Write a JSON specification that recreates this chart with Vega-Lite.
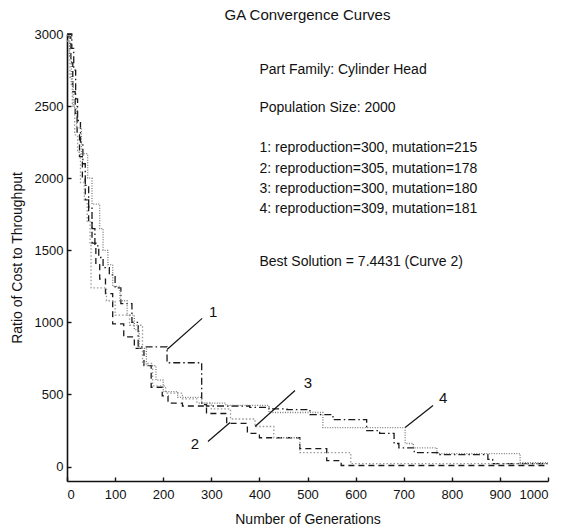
{
  "$schema": "https://vega.github.io/schema/vega-lite/v6.json",
  "autosize": {"type": "none"},
  "padding": {"left": 67, "top": 34, "right": 15, "bottom": 47},
  "width": 481,
  "height": 447,
  "background": "white",
  "config": {
    "view": {"stroke": null},
    "font": "Liberation Sans",
    "axis": {
      "grid": false,
      "domainColor": "#111",
      "domainWidth": 1.6,
      "tickColor": "#111",
      "tickWidth": 1.4,
      "tickSize": -4,
      "labelFontSize": 13,
      "labelColor": "#111",
      "titleFontSize": 14,
      "titleFontWeight": "normal",
      "titleColor": "#111",
      "labelFont": "Liberation Sans",
      "titleFont": "Liberation Sans",
      "format": "d"
    }
  },
  "title": {"text": "GA Convergence Curves", "fontSize": 15, "fontWeight": "normal", "font": "Liberation Sans", "color": "#111", "offset": 5},
  "layer": [
    {
      "data": {"values": [
        {"c":"1","x":0,"y":3000},{"c":"1","x":10,"y":2900},{"c":"1","x":14,"y":2750},{"c":"1","x":18,"y":2550},{"c":"1","x":22,"y":2400},{"c":"1","x":28,"y":2250},{"c":"1","x":33,"y":2100},{"c":"1","x":38,"y":1950},{"c":"1","x":45,"y":1800},{"c":"1","x":52,"y":1650},{"c":"1","x":58,"y":1530},{"c":"1","x":66,"y":1450},{"c":"1","x":75,"y":1380},{"c":"1","x":88,"y":1330},{"c":"1","x":100,"y":1240},{"c":"1","x":112,"y":1130},{"c":"1","x":135,"y":1000},{"c":"1","x":148,"y":830},{"c":"1","x":208,"y":720},{"c":"1","x":280,"y":430},{"c":"1","x":290,"y":420},{"c":"1","x":380,"y":410},{"c":"1","x":420,"y":400},{"c":"1","x":457,"y":395},{"c":"1","x":505,"y":360},{"c":"1","x":553,"y":325},{"c":"1","x":623,"y":250},{"c":"1","x":650,"y":230},{"c":"1","x":680,"y":160},{"c":"1","x":690,"y":130},{"c":"1","x":722,"y":97},{"c":"1","x":775,"y":83},{"c":"1","x":875,"y":50},{"c":"1","x":885,"y":20},{"c":"1","x":1000,"y":20},
        {"c":"2","x":0,"y":2980},{"c":"2","x":8,"y":2800},{"c":"2","x":12,"y":2600},{"c":"2","x":17,"y":2450},{"c":"2","x":21,"y":2300},{"c":"2","x":26,"y":2150},{"c":"2","x":32,"y":2000},{"c":"2","x":38,"y":1850},{"c":"2","x":45,"y":1700},{"c":"2","x":52,"y":1550},{"c":"2","x":60,"y":1400},{"c":"2","x":68,"y":1300},{"c":"2","x":80,"y":1200},{"c":"2","x":95,"y":990},{"c":"2","x":118,"y":900},{"c":"2","x":140,"y":820},{"c":"2","x":160,"y":700},{"c":"2","x":175,"y":550},{"c":"2","x":198,"y":490},{"c":"2","x":210,"y":440},{"c":"2","x":240,"y":420},{"c":"2","x":290,"y":368},{"c":"2","x":332,"y":300},{"c":"2","x":375,"y":230},{"c":"2","x":400,"y":200},{"c":"2","x":484,"y":125},{"c":"2","x":540,"y":42},{"c":"2","x":570,"y":7.4431},{"c":"2","x":1000,"y":7.4431},
        {"c":"3","x":0,"y":2950},{"c":"3","x":6,"y":2700},{"c":"3","x":11,"y":2500},{"c":"3","x":16,"y":2300},{"c":"3","x":22,"y":2180},{"c":"3","x":28,"y":1970},{"c":"3","x":36,"y":1850},{"c":"3","x":42,"y":1700},{"c":"3","x":48,"y":1540},{"c":"3","x":50,"y":1240},{"c":"3","x":82,"y":1150},{"c":"3","x":100,"y":1050},{"c":"3","x":130,"y":980},{"c":"3","x":157,"y":715},{"c":"3","x":178,"y":560},{"c":"3","x":205,"y":510},{"c":"3","x":240,"y":470},{"c":"3","x":270,"y":440},{"c":"3","x":300,"y":400},{"c":"3","x":340,"y":330},{"c":"3","x":391,"y":278},{"c":"3","x":430,"y":200},{"c":"3","x":484,"y":97},{"c":"3","x":590,"y":20},{"c":"3","x":1000,"y":20},
        {"c":"4","x":0,"y":2990},{"c":"4","x":5,"y":2850},{"c":"4","x":9,"y":2650},{"c":"4","x":13,"y":2500},{"c":"4","x":20,"y":2350},{"c":"4","x":30,"y":2170},{"c":"4","x":43,"y":2000},{"c":"4","x":52,"y":1820},{"c":"4","x":68,"y":1650},{"c":"4","x":75,"y":1500},{"c":"4","x":85,"y":1400},{"c":"4","x":95,"y":1250},{"c":"4","x":110,"y":1150},{"c":"4","x":125,"y":1050},{"c":"4","x":140,"y":950},{"c":"4","x":150,"y":820},{"c":"4","x":165,"y":700},{"c":"4","x":185,"y":600},{"c":"4","x":200,"y":520},{"c":"4","x":230,"y":480},{"c":"4","x":280,"y":440},{"c":"4","x":330,"y":425},{"c":"4","x":420,"y":375},{"c":"4","x":532,"y":270},{"c":"4","x":703,"y":160},{"c":"4","x":720,"y":130},{"c":"4","x":769,"y":90},{"c":"4","x":942,"y":28},{"c":"4","x":1000,"y":28}
      ]},
      "mark": {"type": "line", "interpolate": "step-after", "strokeWidth": 1.3},
      "encoding": {
        "x": {"field": "x", "type": "quantitative", "scale": {"domain": [0, 1000], "nice": false},
              "axis": {"values": [0,100,200,300,400,500,600,700,800,900,1000], "title": "Number of Generations", "labelPadding": 11, "titlePadding": 11}},
        "y": {"field": "y", "type": "quantitative", "scale": {"domain": [-100, 3000], "nice": false, "zero": false},
              "axis": {"values": [0,500,1000,1500,2000,2500,3000], "title": "Ratio of Cost to Throughput", "labelPadding": 8, "titlePadding": 10}},
        "color": {"field": "c", "type": "nominal", "scale": {"domain": ["1","2","3","4"], "range": ["#1a1a1a", "#1a1a1a", "#9a9a9a", "#7a7a7a"]}, "legend": null},
        "strokeDash": {"field": "c", "type": "nominal", "scale": {"domain": ["1","2","3","4"], "range": [[7,3,1.5,3],[6,4],[1.5,2],[1,1.5]]}, "legend": null}
      }
    },
    {
      "data": {"values": [
        {"x": 281, "y": 1028, "x2": 208, "y2": 812},
        {"x": 293, "y": 174, "x2": 339, "y2": 306},
        {"x": 474, "y": 528, "x2": 391, "y2": 278},
        {"x": 761, "y": 424, "x2": 703, "y2": 271}
      ]},
      "mark": {"type": "rule", "color": "#111", "strokeWidth": 1.2},
      "encoding": {
        "x": {"field": "x", "type": "quantitative"},
        "y": {"field": "y", "type": "quantitative"},
        "x2": {"field": "x2"},
        "y2": {"field": "y2"}
      }
    },
    {
      "data": {"values": [
        {"t": "1", "x": 304, "y": 1070},
        {"t": "2", "x": 266, "y": 160},
        {"t": "3", "x": 501, "y": 583},
        {"t": "4", "x": 782, "y": 479}
      ]},
      "mark": {"type": "text", "fontSize": 15, "font": "Liberation Sans", "color": "#111", "align": "center", "baseline": "middle"},
      "encoding": {
        "x": {"field": "x", "type": "quantitative"},
        "y": {"field": "y", "type": "quantitative"},
        "text": {"field": "t"}
      }
    },
    {
      "data": {"values": [
        {"t": "Part Family: Cylinder Head", "x": 400, "y": 2750},
        {"t": "Population Size: 2000", "x": 400, "y": 2487},
        {"t": "1: reproduction=300, mutation=215", "x": 400, "y": 2209},
        {"t": "2: reproduction=305, mutation=178", "x": 400, "y": 2064},
        {"t": "3: reproduction=300, mutation=180", "x": 400, "y": 1925},
        {"t": "4: reproduction=309, mutation=181", "x": 400, "y": 1786},
        {"t": "Best Solution = 7.4431 (Curve 2)", "x": 400, "y": 1419}
      ]},
      "mark": {"type": "text", "fontSize": 14, "font": "Liberation Sans", "color": "#111", "align": "left", "baseline": "middle"},
      "encoding": {
        "x": {"field": "x", "type": "quantitative"},
        "y": {"field": "y", "type": "quantitative"},
        "text": {"field": "t"}
      }
    }
  ]
}
